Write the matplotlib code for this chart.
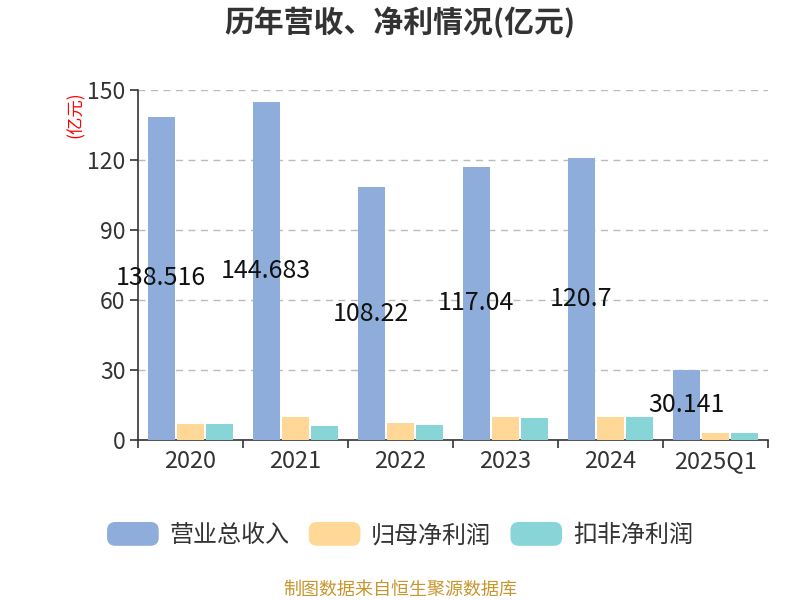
import matplotlib
matplotlib.use("Agg")
import matplotlib.pyplot as plt
from matplotlib.patches import FancyBboxPatch
from matplotlib.legend_handler import HandlerPatch
import numpy as np

plt.rcParams['font.family'] = ['Noto Sans CJK SC', 'DejaVu Sans']

categories = ["2020", "2021", "2022", "2023", "2024", "2025Q1"]
revenue = [138.516, 144.683, 108.22, 117.04, 120.7, 30.141]
net_profit = [7.0, 9.9, 7.4, 9.9, 9.9, 2.9]
deducted_profit = [6.7, 6.0, 6.4, 9.4, 9.9, 2.9]
series_names = ["营业总收入", "归母净利润", "扣非净利润"]
colors = ["#8EADDA", "#FFD898", "#88D5D8"]
yticks = [0, 30, 60, 90, 120, 150]

fig = plt.figure(figsize=(8, 6), dpi=100)
ax = fig.add_axes([138/800, 1-440/600, 630/800, 350/600])

x = np.arange(len(categories))
off = 0.278
w = 0.255
bars = []
for vals, o, c in zip([revenue, net_profit, deducted_profit], [-off, 0, off], colors):
    bars.append(ax.bar(x + o, vals, width=w, color=c, zorder=3))

for xi, v in zip(x, revenue):
    ax.text(xi - off, v / 2, f"{v:g}", ha="center", va="center", fontsize=18,
            color="#111111", zorder=4)

ax.set_xlim(-0.5, len(categories) - 0.5)
ax.set_ylim(0, 150)
ax.set_yticks(yticks)
ax.set_yticklabels([str(t) for t in yticks], fontsize=16.5, color="#333333")
ax.set_xticks(x)
ax.set_xticklabels(categories, fontsize=17, color="#333333")
ax.set_xticks(np.arange(len(categories) + 1) - 0.5, minor=True)
ax.tick_params(axis="x", which="major", length=0, pad=7)
ax.tick_params(axis="x", which="minor", length=6, width=1.2, color="#333333")
ax.tick_params(axis="y", length=6, width=1.2, color="#333333", pad=3)
ax.grid(axis="y", linestyle=(0, (5, 4)), color="#BBBBBB", linewidth=1, zorder=0)
for s in ["top", "right"]:
    ax.spines[s].set_visible(False)
for s in ["left", "bottom"]:
    ax.spines[s].set_color("#333333")
    ax.spines[s].set_linewidth(1.2)

fig.text(0.5, 1 - 22/600, "历年营收、净利情况(亿元)", ha="center", va="center",
         fontsize=21.5, fontweight="bold", color="#333333")
fig.text(76/800, 1 - 115/600, "(亿元)", rotation=90, ha="center", va="center",
         fontsize=12.5, color="red")
fig.text(0.5, 1 - 590/600, "制图数据来自恒生聚源数据库", ha="center", va="center",
         fontsize=13, color="#C8962E")


class RoundHandler(HandlerPatch):
    def create_artists(self, legend, orig_handle, xdescent, ydescent, width, height, fontsize, trans):
        p = FancyBboxPatch((-xdescent, -ydescent), width, height,
                           boxstyle="round,pad=0,rounding_size=6",
                           facecolor=orig_handle.get_facecolor(), edgecolor="none",
                           transform=trans)
        return [p]


handles = [b.patches[0] for b in bars]
leg = fig.legend(handles, series_names, loc="center", bbox_to_anchor=(0.5, 1 - 535/600),
                 ncol=3, frameon=False, fontsize=17.3, handlelength=2.15, handleheight=1.15,
                 handletextpad=0.45, columnspacing=0.8,
                 handler_map={h: RoundHandler() for h in handles})
for t in leg.get_texts():
    t.set_color("#333333")

fig.savefig("out.png", dpi=100)
